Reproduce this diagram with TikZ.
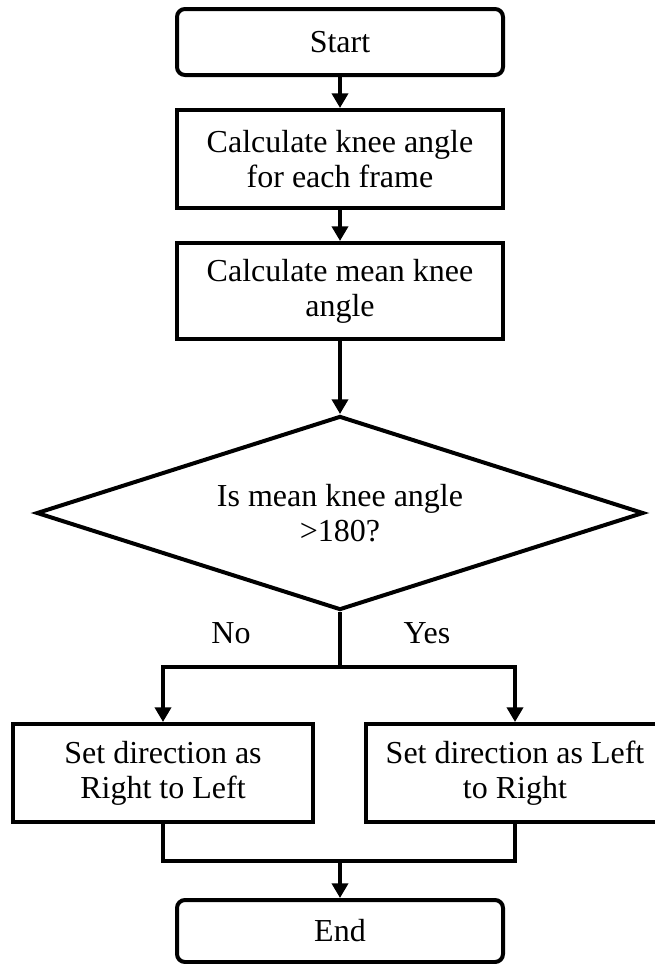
\documentclass[tikz,border=0pt]{standalone}
\usepackage{fontspec}
\setmainfont{Liberation Serif}
\usepackage{tikz}
\usetikzlibrary{arrows.meta,shapes.geometric}

\begin{document}
\begin{tikzpicture}[x=0.75pt,y=-0.75pt,->,>={Triangle[length=11pt,width=12pt]},line width=3pt,
    font=\fontsize{24}{26.25}\selectfont,
    term node/.style={rectangle,rounded corners=6pt,draw,minimum width=244.5pt,minimum height=49.5pt,inner sep=0pt,align=center},
    proc node/.style={rectangle,draw,minimum width=244.5pt,minimum height=73.5pt,inner sep=0pt,align=center},
    side node/.style={rectangle,draw,minimum width=224.5pt,minimum height=73.5pt,inner sep=0pt,align=center},
    test node/.style={diamond,draw,shape aspect=3.13,minimum width=455.25pt,minimum height=145.5pt,inner sep=0pt,align=center}]

  \useasboundingbox (0,0) rectangle (654,964);

  \node[term node] (start) at (340,42) {Start};
  \node[proc node] (frame) [below of=start,node distance=87.75pt] {Calculate knee angle\\for each frame};
  \node[proc node,minimum height=72pt] (mean) [below of=frame,node distance=99pt] {Calculate mean knee\\angle};
  \node[test node] (decide) [below of=mean,node distance=166.5pt] {Is mean knee angle\\>180?};

  \node[side node] (toleft) [below of=decide,node distance=195pt,xshift=-132.75pt] {Set direction as\\Right to Left};
  \node[side node,minimum width=223.5pt] (toright) [below of=decide,node distance=195pt,xshift=131.25pt] {Set direction as Left\\to Right};
  \node[term node,minimum height=46.5pt] (finish) [below of=decide,node distance=313.5pt] {End};

  \node (no) at (231,633) {No};
  \node (yes) at (427,633) {Yes};

  \coordinate (split) at (340,667);
  \coordinate (join) at (340,861);

  \path (start) edge (frame)
        (frame) edge (mean)
        (mean) edge (decide);
  \draw[-] (decide.south) -- (split);
  \draw (split) -| (toleft);
  \draw (split) -| (toright);
  \draw[-] (toleft) |- (join);
  \draw[-] (toright) |- (join);
  \draw (join) -- (finish);

\end{tikzpicture}
\end{document}
